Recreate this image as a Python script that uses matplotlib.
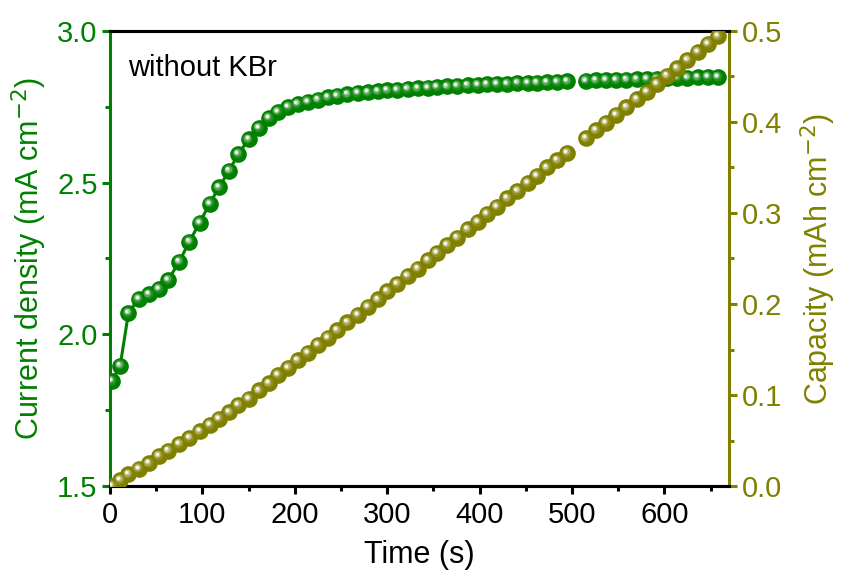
import numpy as np
import matplotlib
matplotlib.use("Agg")
import matplotlib.pyplot as plt
from matplotlib.ticker import MultipleLocator
from matplotlib.transforms import offset_copy
from matplotlib.colors import to_rgb

plt.rcParams['font.family'] = ['Liberation Sans', 'DejaVu Sans']

# time stamps (s); one sample missing around 505 s
time_s = [2, 11, 20, 31, 42, 53, 63, 75, 86, 97, 108, 118, 129, 139, 150,
          161, 172, 182, 193, 203, 214, 225, 236, 246, 257, 268, 279, 290,
          300, 311, 322, 333, 344, 354, 365, 376, 387, 398, 408, 419, 430,
          441, 452, 462, 473, 484, 495, 505,
          515, 526, 537, 548, 559, 570, 581, 592, 603, 614, 625, 636, 647, 658]

current = [1.846, 1.897, 2.071, 2.117, 2.132, 2.150, 2.179, 2.240, 2.306, 2.368,
           2.431, 2.485, 2.540, 2.595, 2.643, 2.680, 2.713, 2.734, 2.750, 2.759,
           2.767, 2.774, 2.781, 2.787, 2.791, 2.795, 2.798, 2.801, 2.804, 2.806,
           2.809, 2.811, 2.813, 2.815, 2.817, 2.819, 2.821, 2.822, 2.824, 2.825,
           2.826, 2.828, 2.829, 2.830, 2.831, 2.832, 2.834, np.nan,
           2.836, 2.837, 2.838, 2.839, 2.840, 2.841, 2.842, 2.843, 2.844, 2.845,
           2.846, 2.847, 2.848, 2.849]

capacity = [0.000, 0.0066, 0.013, 0.019, 0.025, 0.033, 0.039, 0.046, 0.053, 0.060,
            0.067, 0.074, 0.081, 0.089, 0.096, 0.105, 0.113, 0.122, 0.130, 0.138,
            0.146, 0.155, 0.163, 0.171, 0.180, 0.188, 0.197, 0.205, 0.214, 0.222,
            0.231, 0.239, 0.248, 0.256, 0.265, 0.273, 0.282, 0.290, 0.299, 0.307,
            0.316, 0.324, 0.333, 0.341, 0.350, 0.358, 0.366, np.nan,
            0.382, 0.391, 0.399, 0.408, 0.416, 0.425, 0.433, 0.442, 0.451, 0.459,
            0.468, 0.477, 0.486, 0.494]

GREEN = '#008000'
OLIVE = '#808000'


def mix(c, t):
    r, g, b = to_rgb(c)
    return (r + (1 - r) * t, g + (1 - g) * t, b + (1 - b) * t)


def ball_plot(ax, x, y, color, ms=12):
    # line + shaded "sphere" markers
    ax.plot(x, y, '-', color=color, lw=2.2, zorder=2)
    ax.plot(x, y, 'o', ms=ms, color=color, mec='none', zorder=3)
    # (size fraction, lightness, offset in pt)
    layers = [(0.60, 0.12, 0.9), (0.44, 0.35, 1.2), (0.30, 0.65, 1.4),
              (0.17, 1.0, 1.5)]
    for frac, t, off in layers:
        tr = offset_copy(ax.transData, fig=ax.figure, x=-off, y=off, units='points')
        ax.plot(x, y, 'o', ms=ms * frac, color=mix(color, t), mec='none',
                transform=tr, zorder=4)


fig = plt.figure(figsize=(8.43, 5.79), dpi=100)
ax = fig.add_axes([0.1305, 0.1606, 0.7343, 0.7859])
ax2 = ax.twinx()

ball_plot(ax, time_s, current, GREEN)
ball_plot(ax2, time_s, capacity, OLIVE)

ax.set_xlim(0, 670)
ax.set_ylim(1.5, 3.0)
ax2.set_ylim(0, 0.5)

ax.xaxis.set_major_locator(MultipleLocator(100))
ax.xaxis.set_minor_locator(MultipleLocator(50))
ax.yaxis.set_major_locator(MultipleLocator(0.5))
ax.yaxis.set_minor_locator(MultipleLocator(0.25))
ax2.yaxis.set_major_locator(MultipleLocator(0.1))
ax2.yaxis.set_minor_locator(MultipleLocator(0.05))
ax.yaxis.set_major_formatter(plt.FormatStrFormatter('%.1f'))
ax2.yaxis.set_major_formatter(plt.FormatStrFormatter('%.1f'))

for a in (ax, ax2):
    for s in a.spines.values():
        s.set_linewidth(2.2)
ax.spines['right'].set_visible(False)
ax2.spines['left'].set_visible(False)
ax.spines['left'].set_color(GREEN)
ax2.spines['right'].set_color(OLIVE)
ax2.spines['top'].set_color('black')
ax2.spines['bottom'].set_color('black')

ax.tick_params(axis='x', which='major', direction='out', length=6, width=2.2,
               labelsize=21, pad=5, colors='black')
ax.tick_params(axis='x', which='minor', direction='out', length=3.5, width=2.2)
ax.tick_params(axis='y', which='major', direction='out', length=6, width=2.2,
               labelsize=21, pad=3, colors=GREEN)
ax.tick_params(axis='y', which='minor', direction='out', length=3.5, width=2.2,
               colors=GREEN)
ax2.tick_params(axis='y', which='major', direction='out', length=6, width=2.2,
                labelsize=21, pad=3, colors=OLIVE)
ax2.tick_params(axis='y', which='minor', direction='out', length=3.5, width=2.2,
                colors=OLIVE)

ax.set_xlabel('Time (s)', fontsize=22, labelpad=8)
ax.set_ylabel('Current density (mA cm$^{-2}$)', fontsize=22, color=GREEN, labelpad=6)
ax2.set_ylabel('Capacity (mAh cm$^{-2}$)', fontsize=22, color=OLIVE, labelpad=12)

ax.text(0.029, 0.919, 'without KBr', transform=ax.transAxes, fontsize=21,
        va='center', ha='left')

fig.savefig('out.png', dpi=100)
